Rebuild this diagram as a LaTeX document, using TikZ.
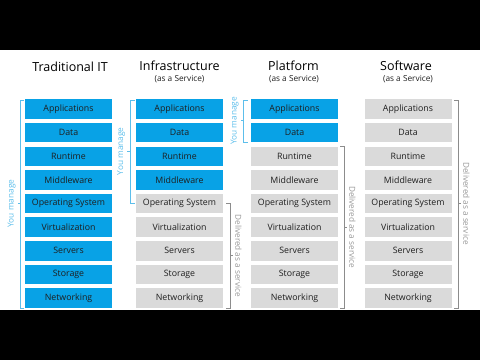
\documentclass[tikz,border=0pt]{standalone}
\usepackage{fontspec}
\setmainfont{Open Sans}
\usetikzlibrary{calc}
\definecolor{azure}{RGB}{8,162,230}
\definecolor{boxgrey}{RGB}{218,218,218}
\definecolor{lineblue}{RGB}{92,190,235}
\definecolor{linegrey}{RGB}{140,140,140}
\definecolor{txtgrey}{RGB}{150,150,150}
\definecolor{ink}{RGB}{30,30,30}
\begin{document}
\begin{tikzpicture}[x=1pt,y=-1pt,
  box/.style={minimum width=87pt,minimum height=19.5pt,inner sep=0pt,
    font=\fontsize{8.8}{9}\selectfont,text=ink},
  title/.style={font=\fontsize{12.5}{14}\selectfont,anchor=base,inner sep=0pt},
  subtitle/.style={font=\fontsize{8.3}{9}\selectfont,anchor=base,inner sep=0pt,text=ink},
  bl/.style={draw=lineblue,line width=0.7pt},
  gl/.style={draw=linegrey,line width=0.7pt},
  bltext/.style={font=\fontsize{8.3}{9}\selectfont,text=lineblue,inner sep=2pt},
  gltext/.style={font=\fontsize{8.2}{9}\selectfont,text=txtgrey,inner sep=2pt}]
\fill[black] (0,0) rectangle (480,49.5);
\fill[black] (0,310) rectangle (480,360);
\useasboundingbox (0,0) rectangle (480,360);

% boxes
\foreach \c/\x/\nb in {1/68.5/9,2/179.5/4,3/294.5/2,4/408/0}{
  \foreach \name [count=\j from 0] in {Applications,Data,Runtime,Middleware,Operating System,Virtualization,Servers,Storage,Networking}{
    \pgfmathparse{\j<\nb ? "azure" : "boxgrey"}
    \edef\fc{\pgfmathresult}
    \node[box,fill=\fc] (c\c r\j) at (\x,{109+23.625*\j}) {\name};
  }
}

% titles
\node[title] (t1) at (70,71.5) {Traditional IT};
\node[title] (t2) at (179.5,70.5) {Infrastructure};
\node[subtitle] (s2) at (179.5,81) {(as a Service)};
\node[title] (t3) at (293.5,70.5) {Platform};
\node[subtitle] (s3) at (294,81) {(as a Service)};
\node[title] (t4) at (406,70.5) {Software};
\node[subtitle] (s4) at (408,81) {(as a Service)};

% column 1: You manage
\draw[bl] ([xshift=-1pt,yshift=-1pt]c1r0.north west) -- ++(-3,0) |- ([xshift=-1pt]c1r8.south west);
\coordinate (m1) at ($(c1r0.north west)!0.5!(c1r8.south west)+(-4,0)$);
\draw[bl] (m1) -- ++(-3,0) coordinate (m1e);
\node[bltext,rotate=90,anchor=south] (y1) at (m1e) {You manage};

% column 2: You manage
\draw[bl] ([xshift=-1pt,yshift=-1pt]c2r0.north west) -- ++(-4.5,0) |- ([xshift=-1pt]c2r4.west);
\coordinate (m2) at ($(c2r0.north west)!0.5!(c2r4.west)+(-5.5,0)$);
\draw[bl] (m2) -- ++(-3,0) coordinate (m2e);
\node[bltext,rotate=90,anchor=south] (y2) at (m2e) {You manage};

% column 2: Delivered as a service
\draw[gl] ([xshift=3pt]c2r4.east) -- ++(4,0) |- ([xshift=3pt]c2r8.south east);
\coordinate (d2) at ($(c2r4.east)!0.5!(c2r8.south east)+(7,0)$);
\draw[gl] (d2) -- ++(3,0) coordinate (d2e);
\node[gltext,rotate=-90,anchor=south] (l2) at (d2e) {Delivered as a service};

% column 3: You manage
\draw[bl] ([xshift=-3pt,yshift=-1pt]c3r0.north west) -- ++(-4,0) |- ([xshift=-3pt]c3r1.south west);
\coordinate (m3) at ($(c3r0.north west)!0.5!(c3r1.south west)+(-7,0)$);
\draw[bl] (m3) -- ++(-3,0) coordinate (m3e);
\node[bltext,rotate=90,anchor=south] (y3) at (m3e) {You manage};

% column 3: Delivered as a service
\draw[gl] ([xshift=2pt]c3r2.north east) -- ++(4,0) |- ([xshift=2pt]c3r8.south east);
\coordinate (d3) at ($(c3r2.north east)!0.5!(c3r8.south east)+(6,0)$);
\draw[gl] (d3) -- ++(3,0) coordinate (d3e);
\node[gltext,rotate=-90,anchor=south] (l3) at (d3e) {Delivered as a service};

% column 4: Delivered as a service
\draw[gl] ([xshift=2.5pt,yshift=-1pt]c4r0.north east) -- ++(4,0) |- ([xshift=2.5pt]c4r8.south east);
\coordinate (d4) at ($(c4r0.north east)!0.5!(c4r8.south east)+(6.5,0)$);
\draw[gl] (d4) -- ++(3,0) coordinate (d4e);
\node[gltext,rotate=-90,anchor=south] (l4) at (d4e) {Delivered as a service};
\end{tikzpicture}
\end{document}
